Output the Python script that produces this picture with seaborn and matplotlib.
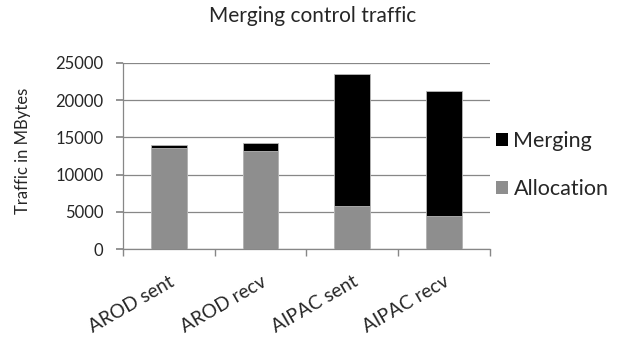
import matplotlib
matplotlib.use("Agg")
import matplotlib.pyplot as plt
import seaborn as sns
import pandas as pd
from matplotlib.patches import Patch

categories = ["AROD sent", "AROD recv", "AIPAC sent", "AIPAC recv"]
allocation = [13600, 13150, 5850, 4500]
merging = [370, 1050, 17650, 16750]
series_names = ["Merging", "Allocation"]

totals = [a + m for a, m in zip(allocation, merging)]
df = pd.DataFrame({"cat": categories, "alloc": allocation, "total": totals})

sns.set_theme(style="white")
plt.rcParams["font.family"] = ["Lato", "DejaVu Sans"]

fig = plt.figure(figsize=(6.2, 3.39), dpi=100)
ax = fig.add_axes([0.198, 0.2646, 0.592, 0.5504])

black = "#000000"
gray = "#8e8e8e"
sns.barplot(data=df, x="cat", y="total", color=black, width=0.39, ax=ax,
            saturation=1, edgecolor="#b8b8b8", linewidth=0.6, zorder=3)
sns.barplot(data=df, x="cat", y="alloc", color=gray, width=0.39, ax=ax,
            saturation=1, edgecolor="#b8b8b8", linewidth=0.6, zorder=3)

ax.set_ylim(0, 25000)
ax.set_xlim(-0.5, 3.5)
ax.set_yticks(range(0, 25001, 5000))
ax.yaxis.grid(True, color="#878787", linewidth=0.9)
ax.set_axisbelow(True)
for s in ["top", "right"]:
    ax.spines[s].set_visible(False)
for s in ["left", "bottom"]:
    ax.spines[s].set_color("#878787")
    ax.spines[s].set_linewidth(0.9)

ax.tick_params(axis="y", which="major", length=5, color="#878787", labelsize=12, pad=9, left=True)
ax.set_xticks([-0.5, 0.5, 1.5, 2.5, 3.5], minor=True)
ax.tick_params(axis="x", which="minor", length=5, color="#878787", bottom=True, direction="out")
ax.tick_params(axis="x", which="major", length=0, labelsize=13.8, pad=17)
ax.set_xticks(range(len(categories)))
ax.set_xticklabels(categories, rotation=30, ha="right", va="top", rotation_mode="anchor")
ax.set_xlabel("")
ax.set_ylabel("Traffic in MBytes", fontsize=12, va="center", ha="center")
ax.yaxis.set_label_coords(-0.2725, 0.525)

fig.text(0.505, 1 - 22 / 339, "Merging control traffic", ha="center", va="baseline", fontsize=15)

handles = [Patch(facecolor=black, edgecolor="none"), Patch(facecolor=gray, edgecolor="none")]
fig.legend(handles, series_names, loc="center left", bbox_to_anchor=(0.8, 0.513),
           frameon=False, fontsize=15.5, handlelength=0.56, handleheight=0.56,
           handletextpad=0.25, labelspacing=1.27, borderpad=0, borderaxespad=0)

fig.savefig("out.png", dpi=100)
